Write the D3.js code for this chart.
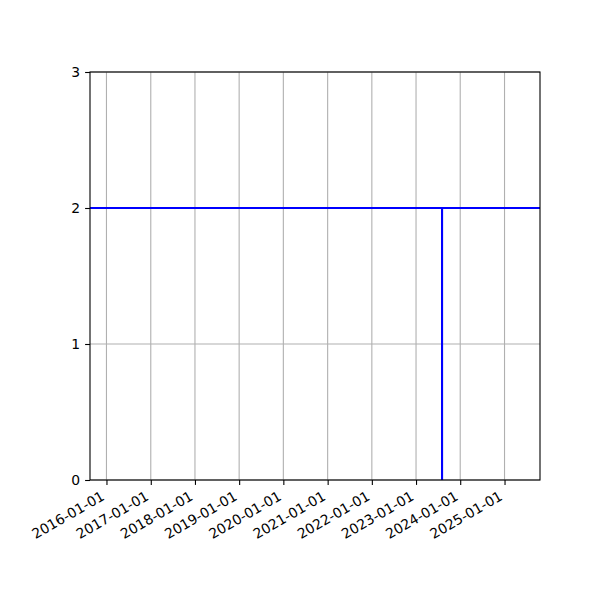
<!DOCTYPE html>
<html>
<head>
<meta charset="utf-8">
<script src="https://cdn.jsdelivr.net/npm/d3@7"></script>
<style>
body { margin: 0; background: #fff; }
text { font-family: "DejaVu Sans", sans-serif; }
</style>
</head>
<body>
<script>
// line: flat at 2, one drop to 0 and back
const dates = ["2015-08-18", "2023-08-04", "2023-08-04", "2023-08-04", "2025-10-21"];
const values = [2, 2, 0, 2, 2];
const xTicks = ["2016-01-01", "2017-01-01", "2018-01-01", "2019-01-01", "2020-01-01",
                "2021-01-01", "2022-01-01", "2023-01-01", "2024-01-01", "2025-01-01"];
const yTicks = [0, 1, 2, 3];

const parse = d3.timeParse("%Y-%m-%d");
const fmt = d3.timeFormat("%Y-%m-%d");

const w = 600, h = 600;
const padL = 90, padR = 540, padT = 72, padB = 480;

const xScale = d3.scaleTime()
  .domain([parse(dates[0]), parse(dates[dates.length - 1])])
  .range([padL, padR]);
const yScale = d3.scaleLinear().domain([0, 3]).range([padB, padT]);

const svg = d3.select("body").append("svg")
  .attr("width", w).attr("height", h);

svg.append("rect").attr("width", w).attr("height", h).attr("fill", "#fff");

// grid
const tickDates = xTicks.map(parse);
svg.append("g").selectAll("line").data(tickDates).enter().append("line")
  .attr("x1", d => xScale(d)).attr("x2", d => xScale(d))
  .attr("y1", padT).attr("y2", padB)
  .attr("stroke", "#b0b0b0").attr("stroke-width", 1.1);
svg.append("g").selectAll("line").data(yTicks).enter().append("line")
  .attr("x1", padL).attr("x2", padR)
  .attr("y1", d => yScale(d)).attr("y2", d => yScale(d))
  .attr("stroke", "#b0b0b0").attr("stroke-width", 1.1);

// data line
const line = d3.line()
  .x((d, i) => xScale(parse(dates[i])))
  .y(d => yScale(d));
svg.append("path")
  .datum(values)
  .attr("d", line)
  .attr("fill", "none")
  .attr("stroke", "#0000ff")
  .attr("stroke-width", 2.1);

// axes
const xAxis = d3.axisBottom(xScale)
  .tickValues(tickDates)
  .tickFormat(fmt)
  .tickSizeInner(4.9).tickSizeOuter(0).tickPadding(4.9);
const gx = svg.append("g")
  .attr("transform", "translate(0," + padB + ")")
  .call(xAxis);
gx.select(".domain").remove();
gx.selectAll(".tick line").attr("stroke", "#000").attr("stroke-width", 1.1);
gx.selectAll("text")
  .attr("font-size", "13.9px")
  .attr("font-family", "DejaVu Sans")
  .attr("fill", "#000")
  .attr("text-anchor", "end")
  .attr("dy", null)
  .attr("y", 0)
  .attr("transform", "translate(-1.5,19) rotate(-30)");

const yAxis = d3.axisLeft(yScale)
  .tickValues(yTicks)
  .tickFormat(d3.format("d"))
  .tickSizeInner(4.9).tickSizeOuter(0).tickPadding(4.9);
const gy = svg.append("g")
  .attr("transform", "translate(" + padL + ",0)")
  .call(yAxis);
gy.select(".domain").remove();
gy.selectAll(".tick line").attr("stroke", "#000").attr("stroke-width", 1.1);
gy.selectAll("text")
  .attr("font-size", "13.9px")
  .attr("font-family", "DejaVu Sans")
  .attr("fill", "#000");

// frame
svg.append("rect")
  .attr("x", padL).attr("y", padT)
  .attr("width", padR - padL).attr("height", padB - padT)
  .attr("fill", "none").attr("stroke", "#000").attr("stroke-width", 1.1);
</script>
</body>
</html>
